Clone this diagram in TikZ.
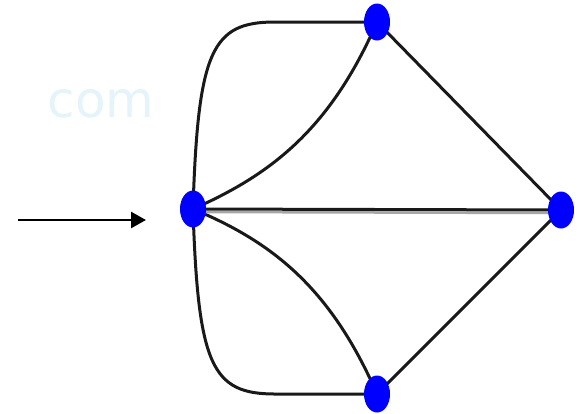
\documentclass[tikz,border=0pt]{standalone}
\usepackage{fontspec}
\setsansfont{DejaVu Sans}
\usetikzlibrary{shapes.geometric,arrows.meta}
\definecolor{wm}{RGB}{228,244,250}
\definecolor{vblue}{RGB}{0,0,255}
\tikzset{
  vert/.style={ellipse,fill=vblue,draw=none,minimum width=26pt,minimum height=37pt,inner sep=0pt},
  edge/.style={line width=3pt,black!90},
}
\begin{document}
\begin{tikzpicture}[x=1pt,y=-1pt]
\useasboundingbox (0,0) rectangle (580,413);
\node[text=wm,font=\sffamily\fontsize{50}{50}\selectfont,anchor=center] (wmk) at (101,104) {com};
\coordinate (Lc) at (193,209);
\coordinate (Tc) at (377,22);
\coordinate (Rc) at (561,210);
\coordinate (Bc) at (377,394);
% edges
\draw[edge] (Lc) .. controls (198,50) and (212,22) .. (275,22) -- (Tc);
\draw[edge] (Lc) .. controls (270,175) and (330,130) .. (Tc);
\draw[edge] (Lc) .. controls (198,366) and (212,394) .. (275,394) -- (Bc);
\draw[edge] (Lc) .. controls (270,241) and (330,286) .. (Bc);
\draw[edge] (Tc) -- (Rc);
\draw[edge] (Bc) -- (Rc);
\draw[line width=2.5pt,black!35] ([yshift=-3pt]Lc) -- ([yshift=-3pt]Rc);
\draw[edge] (Lc) -- (Rc);
% nodes
\node[vert] (l) at (Lc) {};
\node[vert] (t) at (Tc) {};
\node[vert] (r) at (Rc) {};
\node[vert] (b) at (Bc) {};
% arrow
\coordinate (a0) at (18,220);
\coordinate (a1) at (146,220);
\draw[line width=2.5pt,-{Triangle[length=15pt,width=16pt]}] (a0) -- (a1);
\end{tikzpicture}
\end{document}
